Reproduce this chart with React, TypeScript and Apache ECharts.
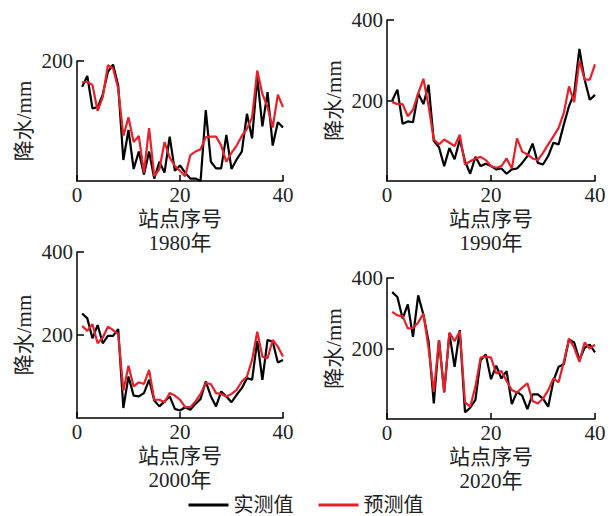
import React, { useEffect, useRef } from "react";
import * as echarts from "echarts";

const stations = [1,2,3,4,5,6,7,8,9,10,11,12,13,14,15,16,17,18,19,20,21,22,23,24,25,26,27,28,29,30,31,32,33,34,35,36,37,38,39,40];

const obs1980 = [157,175,121,123,144,182,194,159,35,85,20,49,11,49,4,32,14,74,17,26,14,4,4,0,118,32,21,21,77,20,36,49,112,71,173,91,148,59,98,89];
const pred1980 = [165,165,160,117,140,193,188,154,75,106,65,75,14,88,8,20,65,39,25,17,8,43,49,53,73,74,74,59,32,47,59,75,87,106,184,145,123,89,144,123];

const obs1990 = [200,227,142,148,146,218,191,239,99,84,37,82,54,103,49,18,60,37,43,37,29,31,18,29,31,45,62,93,45,41,62,95,91,140,186,218,328,252,202,214];
const pred1990 = [196,191,191,161,177,218,254,186,103,91,103,95,87,115,41,49,56,60,52,37,33,37,56,31,106,73,66,56,52,70,91,111,132,169,235,196,299,252,252,290];

const obs2000 = [252,240,192,224,180,198,198,214,24,100,54,52,60,92,42,28,40,52,22,18,26,20,34,46,88,52,28,64,52,38,56,72,96,92,186,92,188,184,134,140];
const pred2000 = [222,210,226,180,194,220,212,202,66,126,76,86,82,116,44,44,38,60,54,44,26,26,40,58,84,82,60,58,52,58,68,88,100,140,208,148,144,188,172,148];

const obs2020 = [360,346,285,325,233,351,296,219,44,224,77,243,148,252,19,32,54,167,183,113,151,115,136,42,77,66,28,70,70,58,35,108,148,155,226,217,167,202,211,189];
const pred2020 = [304,294,292,257,258,274,299,200,77,224,75,245,221,249,47,35,92,174,177,174,129,136,108,82,75,89,101,51,44,58,82,115,104,162,228,202,162,217,200,211];

const years = ["1980年", "1990年", "2000年", "2020年"];
const yMax = [200, 400, 400, 400];
const obsSets = [obs1980, obs1990, obs2000, obs2020];
const predSets = [pred1980, pred1990, pred2000, pred2020];

const FONT = "'Liberation Serif', 'Noto Sans CJK SC', serif";
const BLACK = "#000000";
const RED = "#e8202a";
const TEXT = "#222222";

const grids = [
  { left: 77, top: 61, width: 206, height: 120 },
  { left: 387, top: 20, width: 208, height: 161 },
  { left: 77, top: 252, width: 206, height: 166 },
  { left: 387, top: 278, width: 208, height: 141 },
];

export default function App() {
  const ref = useRef<HTMLDivElement>(null);
  useEffect(() => {
    if (!ref.current) return;
    const chart = echarts.init(ref.current, null, { renderer: "svg" });
    const axisLine = { show: true, lineStyle: { color: BLACK, width: 1.5 } };
    const xAxis = grids.map((_, i) => ({
      type: "value",
      gridIndex: i,
      min: 0,
      max: 40,
      interval: 20,
      name: "站点序号",
      nameLocation: "middle",
      nameGap: 27,
      nameTextStyle: { fontFamily: FONT, fontSize: 21, color: TEXT },
      axisLine,
      axisTick: { show: true, inside: true, length: 6, lineStyle: { color: BLACK, width: 1.5 } },
      axisLabel: { fontFamily: FONT, fontSize: 21, color: TEXT, margin: 3 },
      splitLine: { show: false },
    }));
    const yAxis = grids.map((_, i) => ({
      type: "value",
      gridIndex: i,
      min: 0,
      max: yMax[i],
      interval: 200,
      name: "降水/mm",
      nameLocation: "middle",
      nameRotate: 90,
      nameGap: 43,
      nameTextStyle: { fontFamily: FONT, fontSize: 21, color: TEXT },
      axisLine,
      axisTick: { show: true, inside: true, length: 7, lineStyle: { color: BLACK, width: 1.5 } },
      axisLabel: { fontFamily: FONT, fontSize: 21, color: TEXT, margin: 4, showMinLabel: false },
      splitLine: { show: false },
    }));
    const series: any[] = [];
    grids.forEach((_, i) => {
      series.push({
        type: "line",
        name: "实测值",
        xAxisIndex: i,
        yAxisIndex: i,
        symbol: "none",
        data: stations.map((s, k) => [s, obsSets[i][k]]),
        lineStyle: { color: BLACK, width: 2.2 },
        itemStyle: { color: BLACK },
        z: 2,
      });
      series.push({
        type: "line",
        name: "预测值",
        xAxisIndex: i,
        yAxisIndex: i,
        symbol: "none",
        data: stations.map((s, k) => [s, predSets[i][k]]),
        lineStyle: { color: RED, width: 2.2 },
        itemStyle: { color: RED },
        z: 3,
      });
    });
    const graphic = grids.map((g, i) => ({
      type: "text",
      x: g.left + g.width / 2,
      y: g.top + g.height + 62,
      style: {
        text: years[i],
        fontFamily: FONT,
        fontSize: 21,
        fill: TEXT,
        textAlign: "center",
        textVerticalAlign: "middle",
      },
    }));
    chart.setOption({
      animation: false,
      backgroundColor: "#ffffff",
      grid: grids.map((g) => ({ ...g, containLabel: false })),
      xAxis,
      yAxis,
      series,
      graphic,
      legend: {
        data: ["实测值", "预测值"],
        top: 495,
        left: "center",
        padding: 0,
        itemWidth: 40,
        itemHeight: 3,
        itemGap: 25,
        icon: "rect",
        textStyle: { fontFamily: FONT, fontSize: 20, color: TEXT, lineHeight: 20 },
      },
    });
    return () => chart.dispose();
  }, []);
  return (
    <div
      ref={ref}
      style={{ position: "fixed", left: 0, top: 0, width: 612, height: 516, background: "#fff" }}
    />
  );
}
